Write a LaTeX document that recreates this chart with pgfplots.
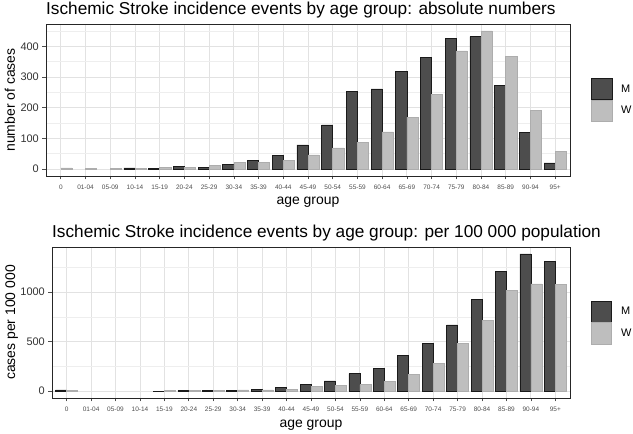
\documentclass[border=0pt]{standalone}
\usepackage{fontspec}
\setmainfont{Liberation Sans}
\usepackage{pgfplots}
\pgfplotsset{compat=1.18}
\usepackage{pgfplotstable}

\definecolor{mfill}{HTML}{4D4D4D}
\definecolor{mdraw}{HTML}{1A1A1A}
\definecolor{wfill}{HTML}{BEBEBE}
\definecolor{wdraw}{HTML}{ADADAD}
\definecolor{gridc}{HTML}{E2E2E2}
\definecolor{gridm}{HTML}{EEEEEE}
\definecolor{tickc}{HTML}{4D4D4D}

\pgfplotstableread{
x M W
0 nan 4
1 nan 1
2 nan 1
3 4 1
4 3 5
5 10 6
6 6 13
7 16 22
8 29 22
9 45 29
10 79 46
11 144 69
12 252 86
13 261 121
14 318 169
15 365 242
16 425 385
17 431 450
18 273 368
19 119 191
20 20 58
}\absdata

\pgfplotstableread{
x M W
0 12 8
1 nan nan
2 nan nan
3 nan nan
4 1 4
5 8 4
6 6 7
7 10 12
8 20 13
9 40 15
10 64 44
11 104 54
12 178 64
13 228 101
14 362 168
15 480 279
16 668 480
17 930 711
18 1211 1016
19 1385 1083
20 1308 1076
}\ratedata

\pgfplotsset{
  ggstyle/.style={
    scale only axis,
    xmin=-0.6, xmax=20.6,
    xtick={0,...,20},
    xticklabels={0,01-04,05-09,10-14,15-19,20-24,25-29,30-34,35-39,40-44,45-49,50-54,55-59,60-64,65-69,70-74,75-79,80-84,85-89,90-94,95+},
    xmajorgrids, ymajorgrids, yminorgrids,
    major grid style={draw=gridc, line width=0.9bp},
    minor grid style={draw=gridm, line width=0.5bp},
    axis line style={draw=black!85, line width=0.9bp},
    tick align=outside,
    major tick length=3.5bp,
    minor tick length=0pt,
    xtick pos=lower, ytick pos=left,
    every tick/.style={draw=tickc, line width=0.7bp},
    xticklabel style={font=\fontsize{6.5}{7}\selectfont, text=tickc, inner sep=0pt, yshift=-5bp},
    yticklabel style={font=\fontsize{11}{12}\selectfont, text=black!80, inner sep=0pt, xshift=-3.5bp},
    /pgf/number format/assume math mode=true,
    /pgf/number format/1000 sep={},
    unbounded coords=discard,
    every axis title shift=0pt,
    label style={font=\fontsize{14}{16}\selectfont},
    title style={font=\fontsize{17.3}{19}\selectfont, anchor=base west, inner sep=0pt},
    xlabel style={anchor=base, inner sep=0pt},
    ylabel style={anchor=base, inner sep=0pt},
    legend style={draw=none, fill=none, anchor=west, inner sep=0pt, outer sep=0pt, row sep=0pt,
      font=\fontsize{11}{11}\selectfont,
      nodes={inner sep=0pt, minimum height=21.5bp},
      /tikz/every odd column/.append style={column sep=9bp}},
    legend cell align=left,
  },
  mbar/.style={ybar, bar width=0.45, bar shift=-0.225, fill=mfill, draw=mdraw, line width=0.6bp,
    legend image code/.code={\draw[fill=mfill, draw=mdraw, line width=0.6bp] (0bp,-10.6bp) rectangle (20.5bp,10.6bp);}},
  wbar/.style={ybar, bar width=0.45, bar shift=0.225, fill=wfill, draw=wdraw, line width=0.6bp,
    legend image code/.code={\draw[fill=wfill, draw=wdraw, line width=0.6bp] (0bp,-10.6bp) rectangle (20.5bp,10.6bp);}},
}

\begin{document}
\begin{tikzpicture}
\useasboundingbox (0bp,0bp) rectangle (633bp,434bp);

\begin{axis}[ggstyle,
  at={(46bp,258bp)}, anchor=south west,
  width=524bp, height=152bp,
  ymin=-22.5, ymax=472.5,
  ytick={0,100,200,300,400},
  minor ytick={50,150,250,350,450},
  title={Ischemic Stroke incidence events by age group: absolute numbers},
  title style={at={(0,1.0592)}},
  xlabel={age group},
  xlabel style={at={(0.5,-0.1908)}},
  ylabel={number of cases},
  ylabel style={at={(-0.0592,0.5)}},
  legend style={at={(1.0401,0.5)}},
]
\addplot[mbar] table[x=x, y=M] {\absdata};
\addplot[wbar] table[x=x, y=W] {\absdata};
\legend{M,W}
\end{axis}

\begin{axis}[ggstyle,
  at={(52bp,36bp)}, anchor=south west,
  width=518bp, height=151bp,
  ymin=-69.3, ymax=1455,
  ytick={0,500,1000},
  minor ytick={250,750,1250},
  title={Ischemic Stroke incidence events by age group: per 100 000 population},
  title style={at={(0,1.0616)}},
  xlabel={age group},
  xlabel style={at={(0.5,-0.1967)}},
  ylabel={cases per 100 000},
  ylabel style={at={(-0.0714,0.5)}},
  legend style={at={(1.0405,0.5)}},
]
\addplot[mbar] table[x=x, y=M] {\ratedata};
\addplot[wbar] table[x=x, y=W] {\ratedata};
\legend{M,W}
\end{axis}
\end{tikzpicture}
\end{document}
